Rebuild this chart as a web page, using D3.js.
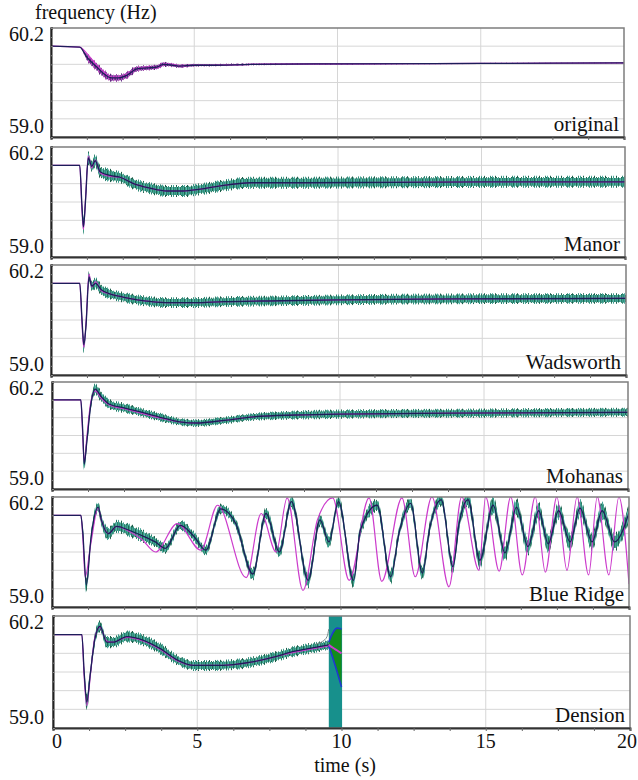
<!DOCTYPE html>
<html>
<head>
<meta charset="utf-8">
<script src="https://cdn.jsdelivr.net/npm/d3@7/dist/d3.min.js"></script>
<style>
  body { margin: 0; background: #fff; }
</style>
</head>
<body>
<svg id="chart" width="638" height="780"></svg>
<script>
// ---- data: frequency response (Hz) after the disturbance at t = 1 s ----
const panelNames = ["original", "Manor", "Wadsworth", "Mohanas", "Blue Ridge", "Dension"];
const yTickLabels = ["60.2", "59.0"];
const xTickValues = [0, 5, 10, 15, 20];
const xTickLabels = ["0", "5", "10", "15", "20"];

// original
const origT      = [0, 1.0, 1.25, 1.6, 1.83, 2.12, 2.35, 2.65, 3.0, 3.35, 3.7, 3.93, 4.27, 4.5, 4.97, 5.56, 7, 10, 15, 20];
const origF      = [60.0, 59.99, 59.88, 59.77, 59.70, 59.65, 59.65, 59.68, 59.75, 59.76, 59.77, 59.80, 59.79, 59.78, 59.79, 59.79, 59.80, 59.805, 59.81, 59.815];
const origSpread = [0, 0, 0.03, 0.035, 0.035, 0.03, 0.03, 0.03, 0.025, 0.02, 0.02, 0.02, 0.015, 0.015, 0.012, 0.01, 0.008, 0.006, 0.004, 0.003];
const origMagF   = [60.0, 59.99, 59.92, 59.79, 59.72, 59.66, 59.66, 59.69, 59.75, 59.77, 59.76, 59.80, 59.80, 59.78, 59.79, 59.79, 59.80, 59.805, 59.81, 59.815];

// Manor
const manorT      = [0, 1.0, 1.08, 1.13, 1.2, 1.3, 1.42, 1.54, 1.71, 2.06, 2.41, 2.87, 3.46, 4.04, 4.6, 5.2, 5.8, 6.96, 8.7, 12, 16, 20];
const manorF      = [60.0, 60.0, 59.55, 59.33, 59.6, 60.08, 59.99, 60.05, 59.93, 59.89, 59.87, 59.80, 59.75, 59.72, 59.72, 59.74, 59.77, 59.81, 59.81, 59.815, 59.82, 59.82];
const manorSpread = [0, 0, 0.05, 0.06, 0.05, 0.05, 0.05, 0.05, 0.05, 0.05, 0.045, 0.045, 0.045, 0.045, 0.045, 0.045, 0.045, 0.045, 0.045, 0.045, 0.045, 0.045];
const manorMagF   = [60.0, 60.0, 59.5, 59.3, 59.62, 60.1, 59.97, 60.06, 59.92, 59.88, 59.87, 59.80, 59.75, 59.72, 59.72, 59.74, 59.77, 59.81, 59.81, 59.815, 59.82, 59.82];

// Wadsworth
const wadsT      = [0, 1.0, 1.08, 1.14, 1.22, 1.32, 1.42, 1.55, 1.75, 2.1, 2.5, 3.0, 3.5, 4.0, 5.0, 6.0, 8.0, 10, 14, 20];
const wadsF      = [60.0, 60.0, 59.6, 59.33, 59.55, 60.07, 59.97, 60.0, 59.93, 59.88, 59.85, 59.82, 59.80, 59.79, 59.79, 59.80, 59.81, 59.82, 59.83, 59.835];
const wadsSpread = [0, 0, 0.05, 0.06, 0.05, 0.045, 0.045, 0.045, 0.045, 0.04, 0.04, 0.04, 0.04, 0.04, 0.04, 0.04, 0.04, 0.04, 0.04, 0.04];
const wadsMagF   = [60.0, 60.0, 59.55, 59.3, 59.58, 60.1, 59.96, 60.02, 59.92, 59.88, 59.85, 59.82, 59.80, 59.79, 59.79, 59.80, 59.81, 59.82, 59.83, 59.835];

// Mohanas
const mohT      = [0, 1.0, 1.06, 1.12, 1.2, 1.35, 1.5, 1.7, 2.0, 2.5, 3.0, 3.7, 4.5, 5.0, 6.0, 7.0, 8.5, 10, 14, 20];
const mohF      = [60.0, 60.0, 59.7, 59.28, 59.5, 59.95, 60.12, 60.04, 59.95, 59.91, 59.87, 59.81, 59.75, 59.74, 59.77, 59.81, 59.83, 59.84, 59.85, 59.86];
const mohSpread = [0, 0, 0.04, 0.05, 0.05, 0.045, 0.045, 0.045, 0.04, 0.04, 0.035, 0.035, 0.03, 0.03, 0.03, 0.03, 0.035, 0.035, 0.035, 0.035];
const mohMagF   = [60.0, 60.0, 59.65, 59.3, 59.55, 59.98, 60.1, 60.02, 59.94, 59.9, 59.86, 59.80, 59.75, 59.74, 59.77, 59.81, 59.83, 59.84, 59.85, 59.86];

// Blue Ridge (growing oscillation)
const brT      = [0, 1.0, 1.07, 1.19, 1.35, 1.6, 1.71, 1.95, 2.24, 2.65, 3.11, 3.58, 3.93, 4.45, 4.92, 5.33, 5.85, 6.37, 6.96, 7.42, 7.88, 8.3, 8.88, 9.29, 9.6, 9.93, 10.45, 10.69, 11.27, 11.74, 12.03, 12.43, 12.84, 13.08, 13.49, 13.9, 14.1, 14.42, 14.83, 15.29, 15.7, 16.1, 16.5, 16.87, 17.2, 17.56, 17.96, 18.3, 18.72, 19.07, 19.5, 20];
const brF      = [60.0, 60.0, 59.8, 59.24, 59.75, 60.09, 59.95, 59.80, 59.88, 59.84, 59.78, 59.71, 59.64, 59.89, 59.77, 59.62, 60.07, 59.91, 59.36, 60.02, 59.60, 60.15, 59.29, 59.95, 59.71, 60.15, 59.29, 59.84, 60.11, 59.33, 59.81, 60.13, 59.37, 59.84, 60.17, 59.44, 59.89, 60.17, 59.51, 60.11, 59.59, 60.09, 59.66, 60.05, 59.69, 60.05, 59.71, 60.08, 59.71, 60.05, 59.71, 60.03];
const brSpread = [0, 0, 0.05, 0.06, 0.05, 0.04, 0.05, 0.05, 0.05, 0.05, 0.05, 0.04, 0.04, 0.04, 0.04, 0.04, 0.04, 0.04, 0.05, 0.05, 0.05, 0.05, 0.06, 0.05, 0.05, 0.05, 0.06, 0.05, 0.05, 0.06, 0.05, 0.05, 0.06, 0.05, 0.05, 0.06, 0.06, 0.06, 0.07, 0.07, 0.07, 0.07, 0.07, 0.07, 0.07, 0.07, 0.07, 0.07, 0.07, 0.07, 0.07, 0.07];
const brMagT   = [0, 1.0, 1.07, 1.15, 1.35, 1.6, 1.71, 1.95, 2.24, 2.65, 3.11, 3.59, 4.34, 5.16, 5.74, 6.73, 7.25, 7.77, 8.15, 8.7, 9.2, 9.73, 10.3, 10.99, 11.43, 12.13, 12.59, 13.17, 13.76, 14.2, 14.8, 15.03, 15.5, 15.9, 16.3, 16.75, 17.1, 17.5, 17.85, 18.2, 18.6, 18.9, 19.3, 19.65, 20];
const brMagF   = [60.0, 60.0, 59.75, 59.33, 59.7, 60.08, 59.95, 59.80, 59.88, 59.83, 59.74, 59.60, 59.91, 59.62, 60.11, 59.32, 60.02, 59.60, 60.19, 59.18, 59.95, 60.19, 59.29, 60.19, 59.28, 60.19, 59.33, 60.2, 59.22, 60.2, 59.40, 60.2, 59.39, 60.2, 59.35, 60.2, 59.38, 60.2, 59.4, 60.2, 59.35, 60.2, 59.35, 60.2, 59.25];

// Dension (simulation stops shortly before t = 10 s)
const denT      = [0, 1.0, 1.08, 1.17, 1.3, 1.45, 1.63, 1.86, 2.09, 2.56, 3.14, 3.72, 4.3, 4.87, 5.57, 6.26, 6.96, 7.65, 8.34, 9.04, 9.56];
const denF      = [60.0, 60.0, 59.6, 59.28, 59.6, 59.95, 60.09, 59.92, 59.92, 59.98, 59.94, 59.85, 59.73, 59.67, 59.67, 59.68, 59.71, 59.76, 59.82, 59.86, 59.89];
const denSpread = [0, 0, 0.05, 0.07, 0.05, 0.045, 0.045, 0.045, 0.045, 0.045, 0.045, 0.045, 0.04, 0.04, 0.04, 0.04, 0.04, 0.04, 0.04, 0.04, 0.035];
const denMagF   = [60.0, 60.0, 59.55, 59.24, 59.58, 59.97, 60.08, 59.93, 59.92, 59.97, 59.93, 59.84, 59.72, 59.67, 59.67, 59.68, 59.71, 59.76, 59.81, 59.85, 59.88];
const denBlockT = [9.56, 10.02];
const denEndT   = [9.56, 9.7, 9.85, 10.0];
const denUpperF = [59.92, 60.02, 60.07, 60.06];
const denLowerF = [59.88, 59.75, 59.6, 59.44];
const denEndMagF = [59.89, 59.86, 59.83, 59.80];
const denGrayT  = [9.1, 9.35, 9.5, 9.56];
const denGrayF  = [59.9, 59.93, 59.98, 60.06];

// ---- layout ----
const frames = [
  { top: 28,  bottom: 137, left: 51, right: 624 },
  { top: 147, bottom: 257, left: 51, right: 625 },
  { top: 265, bottom: 375, left: 51, right: 626 },
  { top: 382, bottom: 489, left: 52, right: 628 },
  { top: 497, bottom: 607, left: 52, right: 629 },
  { top: 616, bottom: 728, left: 53, right: 630 }
];

const panels = [
  { t: origT,  f: origF,  s: origSpread,  magT: origT,  magF: origMagF,  tex: "P" },
  { t: manorT, f: manorF, s: manorSpread, magT: manorT, magF: manorMagF, tex: "T" },
  { t: wadsT,  f: wadsF,  s: wadsSpread,  magT: wadsT,  magF: wadsMagF,  tex: "T" },
  { t: mohT,   f: mohF,   s: mohSpread,   magT: mohT,   magF: mohMagF,   tex: "T" },
  { t: brT,    f: brF,    s: brSpread,    magT: brMagT, magF: brMagF,    tex: "T" },
  { t: denT,   f: denF,   s: denSpread,   magT: denT,   magF: denMagF,   tex: "T" }
];

const SERIF = "'Liberation Serif', 'Times New Roman', serif";
const svg = d3.select("#chart");
const defs = svg.append("defs");

// stripe textures for the dense bundle of overlapping traces
function stripes(id, width, cols) {
  const p = defs.append("pattern").attr("id", id)
    .attr("patternUnits", "userSpaceOnUse").attr("width", width).attr("height", 8);
  cols.forEach(([x, c]) => p.append("rect").attr("x", x).attr("width", 1).attr("height", 8).attr("fill", c));
}
stripes("coreT", 7, [[0, "#2e8f7c"], [1, "#45a596"], [2, "#1f6a52"], [3, "#3a9c88"], [4, "#58b6ac"], [5, "#2a7d68"], [6, "#3f9f8e"]]);
stripes("hairT1", 5, [[1, "#236b55"], [3, "#3a9a86"]]);
stripes("hairT2", 11, [[0, "#1c5c48"], [6, "#2c8672"], [8, "#4aa89c"]]);
stripes("coreP", 5, [[0, "#6a3088"], [1, "#b448b8"], [2, "#4a3a84"], [3, "#c458c4"], [4, "#8a3aa0"]]);
stripes("hairP1", 5, [[1, "#7a3a9a"], [3, "#c050c0"]]);
stripes("hairP2", 11, [[0, "#5a2a7a"], [6, "#b04ab4"]]);

const gridColor = "#d6d6d6";

function label(sel, size) {
  return sel.style("font-family", SERIF).attr("font-size", size).attr("fill", "#111");
}

panels.forEach((p, i) => {
  const fr = frames[i];
  const x = d3.scaleLinear().domain([0, 20]).range([fr.left, fr.right]);
  const y = d3.scaleLinear().domain([59.0, 60.2]).range([fr.bottom, fr.top]);
  const g = svg.append("g");

  defs.append("clipPath").attr("id", "clip" + i)
    .append("rect").attr("x", fr.left).attr("y", fr.top)
    .attr("width", fr.right - fr.left).attr("height", fr.bottom - fr.top);

  // grid
  g.append("g").selectAll("line").data([59.2, 59.4, 59.6, 59.8, 60.0]).join("line")
    .attr("x1", fr.left).attr("x2", fr.right)
    .attr("y1", d => y(d)).attr("y2", d => y(d))
    .attr("stroke", gridColor).attr("stroke-width", 1);
  g.append("g").selectAll("line").data([5, 10, 15]).join("line")
    .attr("x1", d => x(d)).attr("x2", d => x(d))
    .attr("y1", fr.top).attr("y2", fr.bottom)
    .attr("stroke", gridColor).attr("stroke-width", 1);

  const plot = g.append("g").attr("clip-path", `url(#clip${i})`);
  const rows = p.t.map((t, k) => ({ t, f: p.f[k], s: p.s[k] }));
  const curve = d3.curveMonotoneX;

  // Dension: unstable segment before the run terminates
  if (i === 5) {
    plot.append("rect")
      .attr("x", x(denBlockT[0])).attr("width", x(denBlockT[1]) - x(denBlockT[0]))
      .attr("y", fr.top).attr("height", fr.bottom - fr.top)
      .attr("fill", "#17908c");
  }

  // bundle of traces: outer hairs, then the dense core
  const bandAt = k => d3.area().curve(curve).x(d => x(d.t))
    .y0(d => y(d.f - d.s * k)).y1(d => y(d.f + d.s * k));
  plot.append("path").datum(rows).attr("d", bandAt(1.45)).attr("fill", `url(#hair${p.tex}2)`);
  plot.append("path").datum(rows).attr("d", bandAt(1.2)).attr("fill", `url(#hair${p.tex}1)`);
  plot.append("path").datum(rows).attr("d", bandAt(0.95)).attr("fill", `url(#core${p.tex})`);

  // magenta trace
  const magRows = p.magT.map((t, k) => ({ t, f: p.magF[k] }));
  plot.append("path").datum(magRows)
    .attr("d", d3.line().curve(curve).x(d => x(d.t)).y(d => y(d.f)))
    .attr("fill", "none").attr("stroke", "#cc3ccc").attr("stroke-width", 1.2);

  // mean trace
  plot.append("path").datum(rows)
    .attr("d", d3.line().curve(curve).x(d => x(d.t)).y(d => y(d.f)))
    .attr("fill", "none").attr("stroke", "#1d1d5a").attr("stroke-width", 1.3);

  if (i === 5) {
    const endRows = denEndT.map((t, k) => ({ t, hi: denUpperF[k], lo: denLowerF[k], m: denEndMagF[k] }));
    plot.append("path").datum(endRows)
      .attr("d", d3.area().curve(curve).x(d => x(d.t)).y0(d => y(d.lo)).y1(d => y(d.hi)))
      .attr("fill", "#128c1c");
    plot.append("path").datum(endRows)
      .attr("d", d3.line().curve(curve).x(d => x(d.t)).y(d => y(d.hi)))
      .attr("fill", "none").attr("stroke", "#2038d0").attr("stroke-width", 1.6);
    plot.append("path").datum(endRows)
      .attr("d", d3.line().curve(curve).x(d => x(d.t)).y(d => y(d.lo)))
      .attr("fill", "none").attr("stroke", "#2038d0").attr("stroke-width", 1.6);
    plot.append("path").datum(endRows)
      .attr("d", d3.line().curve(curve).x(d => x(d.t)).y(d => y(d.m)))
      .attr("fill", "none").attr("stroke", "#cc3ccc").attr("stroke-width", 2);
    const grayRows = denGrayT.map((t, k) => ({ t, f: denGrayF[k] }));
    plot.append("path").datum(grayRows)
      .attr("d", d3.line().curve(curve).x(d => x(d.t)).y(d => y(d.f)))
      .attr("fill", "none").attr("stroke", "#7a8a8a").attr("stroke-width", 1);
  }

  // frame: light top/right, dark left/bottom axes
  g.append("rect").attr("x", fr.left).attr("y", fr.top)
    .attr("width", fr.right - fr.left).attr("height", fr.bottom - fr.top)
    .attr("fill", "none").attr("stroke", "#7d7d7d").attr("stroke-width", 1.5);

  const xAxis = d3.axisBottom(x).tickValues(d3.range(0, 20.01, 1.25)).tickSize(3).tickFormat("");
  const ax = g.append("g").attr("transform", `translate(0,${fr.bottom})`).call(xAxis);
  ax.select(".domain").attr("stroke", "#333").attr("stroke-width", 2);
  ax.selectAll(".tick line").attr("stroke", "#666");

  const yAxis = d3.axisLeft(y).tickValues(d3.range(59.0, 60.201, 0.1)).tickSize(-2).tickFormat("");
  const ay = g.append("g").attr("transform", `translate(${fr.left},0)`).call(yAxis);
  ay.select(".domain").attr("stroke", "#222").attr("stroke-width", 2);
  ay.selectAll(".tick line").attr("stroke", "#888");

  // y labels at the ends of the range
  label(g.append("text"), 20).attr("x", 44).attr("y", y(60.2) + 12.5)
    .attr("text-anchor", "end").text(yTickLabels[0]);
  label(g.append("text"), 20).attr("x", 44).attr("y", y(59.0) - 4)
    .attr("text-anchor", "end").text(yTickLabels[1]);

  // panel name
  label(g.append("text"), 21).attr("x", fr.right - 5).attr("y", fr.bottom - 6)
    .attr("text-anchor", "end").text(panelNames[i]);

  if (i === 5) {
    label(g.append("g").selectAll("text").data(xTickValues).join("text"), 20)
      .attr("x", (d, k) => k === 0 ? x(d) + 4 : (k === 4 ? 627 : x(d)))
      .attr("y", 748).attr("text-anchor", "middle")
      .text((d, k) => xTickLabels[k]);
  }
});

label(svg.append("text"), 20).attr("x", 35).attr("y", 19).text("frequency (Hz)");
label(svg.append("text"), 20).attr("x", 345).attr("y", 772).attr("text-anchor", "middle").text("time (s)");
</script>
</body>
</html>
